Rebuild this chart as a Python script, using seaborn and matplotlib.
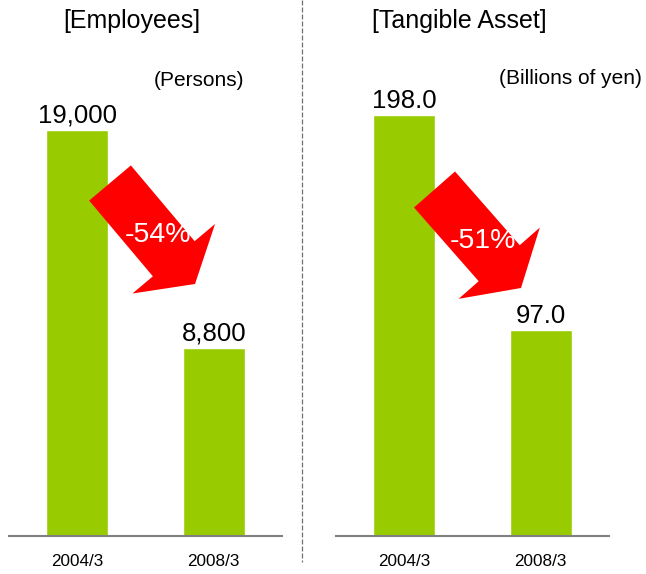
import matplotlib
matplotlib.use('Agg')
import matplotlib.pyplot as plt
import pandas as pd
import seaborn as sns
from matplotlib.patches import FancyArrow

# data
periods = ['2004/3', '2008/3']
employees = [19000, 8800]
tangible_asset = [198.0, 97.0]
titles = ['[Employees]', '[Tangible Asset]']
units = ['(Persons)', '(Billions of yen)']

BAR_COLOR = '#99CC00'
AXIS_COLOR = '#808080'


def draw_panel(ax, values, fmt, ymax):
    df = pd.DataFrame({'period': periods, 'value': values})
    sns.barplot(data=df, x='period', y='value', ax=ax, color=BAR_COLOR,
                saturation=1, width=0.455)
    ax.bar_label(ax.containers[0], labels=[fmt(v) for v in values],
                 fontsize=18.5, padding=1.5, color='black')
    ax.set_xlim(-0.5, 1.5)
    ax.set_ylim(0, ymax)
    ax.set_xlabel('')
    ax.set_ylabel('')
    ax.set_yticks([])
    sns.despine(ax=ax, left=True)
    ax.spines['bottom'].set_color(AXIS_COLOR)
    ax.spines['bottom'].set_linewidth(1.5)
    ax.tick_params(axis='x', length=0, pad=13, labelsize=12.3,
                   labelcolor='black')
    ax.patch.set_alpha(0)


def pct_change(values):
    change = (values[1] - values[0]) / values[0] * 100
    return f"{change:.0f}%"


sns.set_style('white')
plt.rcParams['font.family'] = ['Liberation Sans', 'DejaVu Sans']
plt.rcParams['text.color'] = 'black'

fig = plt.figure(figsize=(6.46, 5.74), dpi=100)
ax_left = fig.add_axes([9 / 646, 38 / 574, 273 / 646, 536 / 574])
ax_right = fig.add_axes([336 / 646, 38 / 574, 273 / 646, 536 / 574])

draw_panel(ax_left, employees, lambda v: f"{v:,.0f}", 25080)
draw_panel(ax_right, tangible_asset, lambda v: f"{v:.1f}", 252.1)

# overlay in pixel units for titles, arrows and the divider
ov = fig.add_axes([0, 0, 1, 1], zorder=5)
ov.set_xlim(0, 646)
ov.set_ylim(574, 0)
ov.axis('off')
ov.patch.set_alpha(0)

ov.plot([302, 302], [0, 562], color='#707070', lw=0.9,
        linestyle=(0, (4, 1.6)))

for x, t in zip([132, 459.5], titles):
    ov.text(x, 21, t, fontsize=18, ha='center', va='center')
ov.text(199, 80, units[0], fontsize=15, ha='center', va='center')
ov.text(570, 78, units[1], fontsize=15, ha='center', va='center')

# red "decrease" arrows
for (x0, y0, dx, dy), vals, (tx, ty) in [
        ((110, 183, 85, 101), employees, (158.5, 235)),
        ((434.5, 189.5, 86.5, 98.5), tangible_asset, (482.5, 241))]:
    ov.add_patch(FancyArrow(x0, y0, dx, dy, width=54.6, head_width=108,
                            head_length=33, length_includes_head=True,
                            color='#FF0000', lw=0))
    ov.text(tx, ty, pct_change(vals), fontsize=20.5, color='white',
            ha='center', va='center')

fig.savefig('out.png', dpi=100)
